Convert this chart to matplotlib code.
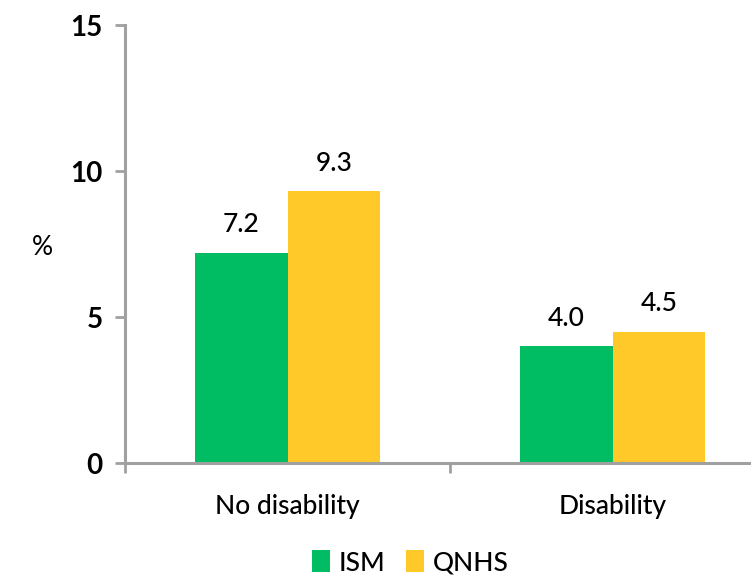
import numpy as np
import matplotlib.pyplot as plt

plt.rcParams['font.family'] = ['Lato', 'DejaVu Sans']
plt.rcParams['font.weight'] = 'medium'

# Share of people, by disability status and survey
categories = ['No disability', 'Disability']
ism = [7.2, 4.0]
qnhs = [9.3, 4.5]
series_names = ['ISM', 'QNHS']
colors = ['#00BD63', '#FFC92A']
yticks = [0, 5, 10, 15]

fig = plt.figure(figsize=(7.51, 5.78), dpi=100)
# axes runs a little past the right edge of the figure
ax = fig.add_axes([125 / 751, 1 - 463 / 578, 650 / 751, 438 / 578])

x = np.arange(len(categories))
w = 0.285
b1 = ax.bar(x - w / 2, ism, w, color=colors[0], label=series_names[0])
b2 = ax.bar(x + w / 2, qnhs, w, color=colors[1], label=series_names[1])

for bars, vals in [(b1, ism), (b2, qnhs)]:
    for rect, v in zip(bars, vals):
        ax.annotate(f'{v:.1f}', (rect.get_x() + rect.get_width() / 2, v),
                    xytext=(0, 11), textcoords='offset points',
                    ha='center', va='bottom', fontsize=19)

ax.set_xlim(-0.5, 1.5)
ax.set_ylim(0, 15)
ax.set_yticks(yticks)
ax.set_yticklabels([str(t) for t in yticks], fontsize=20, fontweight='bold')

# category labels centred, ticks on the category boundaries
ax.set_xticks([-0.5, 0.5, 1.5])
ax.set_xticklabels([])
ax.set_xticks(x, minor=True)
ax.set_xticklabels(categories, minor=True, fontsize=19)
ax.tick_params(axis='x', which='minor', length=0, pad=22)
ax.tick_params(axis='x', which='major', length=7, width=2, color='#A0A0A0')
ax.tick_params(axis='y', length=7, width=2, color='#A0A0A0', pad=9)

for s in ['top', 'right']:
    ax.spines[s].set_visible(False)
for s in ['left', 'bottom']:
    ax.spines[s].set_color('#A0A0A0')
    ax.spines[s].set_linewidth(2.2)

ax.set_ylabel('%', rotation=0, fontsize=19, va='center', ha='center')
ax.yaxis.set_label_coords(-0.127, 0.493)

fig.legend(loc='center', bbox_to_anchor=(410 / 751, 1 - 563 / 578), ncol=2,
           frameon=False, fontsize=19, handlelength=0.7, handleheight=0.9,
           handletextpad=0.3, columnspacing=0.8)

fig.savefig('out.png', dpi=100)
